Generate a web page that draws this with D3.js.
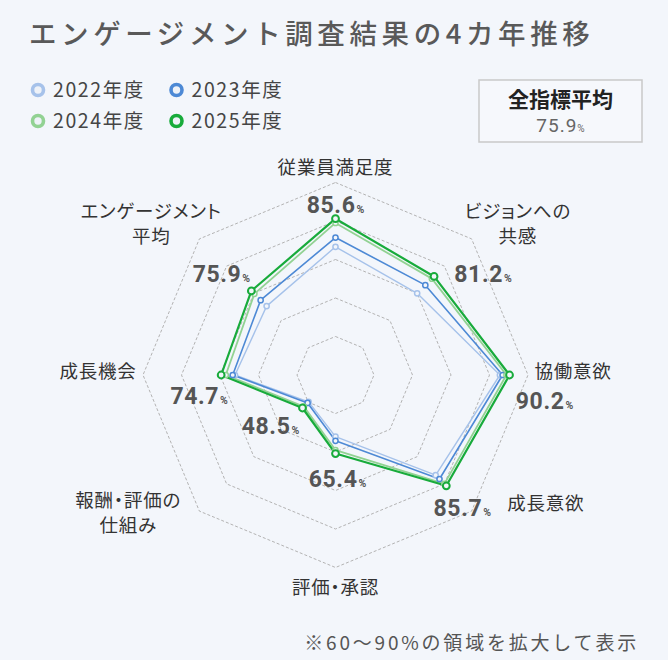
<!DOCTYPE html>
<html>
<head>
<meta charset="utf-8">
<script src="https://cdn.jsdelivr.net/npm/d3@7"></script>
<style>
  html, body { margin: 0; padding: 0; background: #f3f6fb; }
  svg { display: block; }
  text { font-family: "Noto Sans CJK JP", "Noto Sans", sans-serif; }
  .num { font-family: Roboto, "Noto Sans", sans-serif; }
  .cat { font-feature-settings: "palt"; }
</style>
</head>
<body>
<svg id="chart"></svg>
<script>
// axes clockwise from the top
const categories = [
  ['従業員満足度'],
  ['ビジョンへの', '共感'],
  ['協働意欲'],
  ['成長意欲'],
  ['評価・承認'],
  ['報酬・評価の', '仕組み'],
  ['成長機会'],
  ['エンゲージメント', '平均']
];
const years = ['2022年度', '2023年度', '2024年度', '2025年度'];
const values2022 = [78.3, 75.0, 87.7, 81.8, 61.0, 39.5, 71.1, 70.3];
const values2023 = [80.7, 78.0, 88.4, 83.2, 62.1, 41.0, 71.7, 72.5];
const values2024 = [84.5, 80.4, 89.4, 85.0, 64.5, 46.5, 73.5, 74.8];
const values2025 = [85.6, 81.2, 90.2, 85.7, 65.4, 48.5, 74.7, 75.9];
const overallAverage = 75.9;

const seriesColors = ['#a6c2ea', '#4d89d5', '#92d293', '#18ab3b'];
const seriesWidths = [1.4, 1.6, 1.8, 2.2];

const width = 668;
const height = 660;
const cx = 335.5;
const cy = 375;
const R = 192.5;

const svg = d3.select('#chart')
  .attr('width', width)
  .attr('height', height);

svg.append('rect')
  .attr('width', width)
  .attr('height', height)
  .attr('fill', '#f3f6fb');

// title
svg.append('text')
  .attr('x', 29)
  .attr('y', 44)
  .attr('font-size', 27.5)
  .attr('font-weight', 500)
  .attr('letter-spacing', 4.6)
  .attr('fill', '#595959')
  .text('エンゲージメント調査結果の4カ年推移');

// legend
const legend = svg.append('g');
years.forEach((y, i) => {
  const lx = 38 + (i % 2) * 138.5;
  const ly = 90 + Math.floor(i / 2) * 31;
  legend.append('circle')
    .attr('cx', lx)
    .attr('cy', ly)
    .attr('r', 5.5)
    .attr('fill', '#eef2f8')
    .attr('stroke', seriesColors[i])
    .attr('stroke-width', 3.6);
  legend.append('text')
    .attr('x', lx + 15)
    .attr('y', ly + 7)
    .attr('font-size', 19.5)
    .attr('letter-spacing', 1.6)
    .attr('fill', '#454545')
    .text(y);
});

// overall average box
const box = svg.append('g');
box.append('rect')
  .attr('x', 479)
  .attr('y', 80)
  .attr('width', 163)
  .attr('height', 62)
  .attr('fill', '#f6f8fc')
  .attr('stroke', '#c9c9c9')
  .attr('stroke-width', 1.5);
box.append('text')
  .attr('x', 560.5)
  .attr('y', 107)
  .attr('text-anchor', 'middle')
  .attr('font-size', 21)
  .attr('font-weight', 700)
  .attr('fill', '#222')
  .text('全指標平均');
const avgText = box.append('text')
  .attr('class', 'num')
  .attr('x', 560.5)
  .attr('y', 132)
  .attr('text-anchor', 'middle')
  .attr('fill', '#666');
avgText.append('tspan').attr('font-size', 19).attr('letter-spacing', 1).text(overallAverage.toFixed(1));
avgText.append('tspan').attr('font-size', 10).text('%');

// radial scale: 60–90% stretched, below 60 compressed
const rScale = d3.scaleLinear()
  .domain([0, 60, 95])
  .range([0, R * 0.3, R]);

const step = 2 * Math.PI / categories.length;
const angle = i => i * step;

const g = svg.append('g')
  .attr('transform', `translate(${cx},${cy})`);

// grid octagons
const ringLine = d3.lineRadial()
  .angle((d, i) => angle(i))
  .radius(d => d)
  .curve(d3.curveLinearClosed);

d3.range(1, 6).forEach(k => {
  g.append('path')
    .attr('d', ringLine(categories.map(() => R * k / 5)))
    .attr('fill', 'none')
    .attr('stroke', '#b3b3b3')
    .attr('stroke-width', 1)
    .attr('stroke-dasharray', '3,2');
});

// series
const allSeries = [values2022, values2023, values2024, values2025];
const seriesLine = d3.lineRadial()
  .angle((d, i) => angle(i))
  .radius(d => rScale(d))
  .curve(d3.curveLinearClosed);

allSeries.forEach((vals, s) => {
  g.append('path')
    .attr('d', seriesLine(vals))
    .attr('fill', 'none')
    .attr('stroke', seriesColors[s])
    .attr('stroke-width', seriesWidths[s])
    .attr('stroke-linejoin', 'round');
});

allSeries.forEach((vals, s) => {
  g.selectAll(null)
    .data(vals)
    .join('circle')
    .attr('cx', (d, i) => d3.pointRadial(angle(i), rScale(d))[0])
    .attr('cy', (d, i) => d3.pointRadial(angle(i), rScale(d))[1])
    .attr('r', s === 3 ? 3.4 : 2.6)
    .attr('fill', '#f3f6fb')
    .attr('stroke', seriesColors[s])
    .attr('stroke-width', s === 3 ? 2 : 1.5);
});

// value labels for 2025, nudged off each point
const valueNudge = [[0, -6], [49, 6], [35, 34], [16, 30], [2, 33], [-32, 26], [-22, 29], [-30, -9]];
values2025.forEach((v, i) => {
  const [px, py] = d3.pointRadial(angle(i), rScale(v));
  const t = g.append('text')
    .attr('class', 'num')
    .attr('x', px + valueNudge[i][0])
    .attr('y', py + valueNudge[i][1])
    .attr('text-anchor', 'middle')
    .attr('font-weight', 700)
    .attr('fill', '#555');
  t.append('tspan').attr('font-size', 23).attr('letter-spacing', 0.6).text(v.toFixed(1));
  t.append('tspan').attr('font-size', 10.5).attr('dx', 1).text('%');
});

// category labels around the octagon
const labelNudge = [[0, 5], [32, 0], [25, -3], [60, -21], [0, 0], [-57, -12], [-25, -3], [-34, 0]];
categories.forEach((lines, i) => {
  const [px, py] = d3.pointRadial(angle(i), R + 20);
  const t = g.append('text')
    .attr('class', 'cat')
    .attr('x', px + labelNudge[i][0])
    .attr('y', py + labelNudge[i][1] - (lines.length - 1) * 12.5 + 6)
    .attr('text-anchor', 'middle')
    .attr('font-size', 18.5)
    .attr('letter-spacing', 0.8)
    .attr('fill', '#333');
  lines.forEach((l, j) => {
    t.append('tspan')
      .attr('x', px + labelNudge[i][0])
      .attr('dy', j === 0 ? 0 : 25)
      .text(l);
  });
});

// footnote
svg.append('text')
  .attr('x', 639)
  .attr('y', 650)
  .attr('text-anchor', 'end')
  .attr('font-size', 19)
  .attr('letter-spacing', 2.8)
  .attr('fill', '#555')
  .text('※60～90%の領域を拡大して表示');
</script>
</body>
</html>
